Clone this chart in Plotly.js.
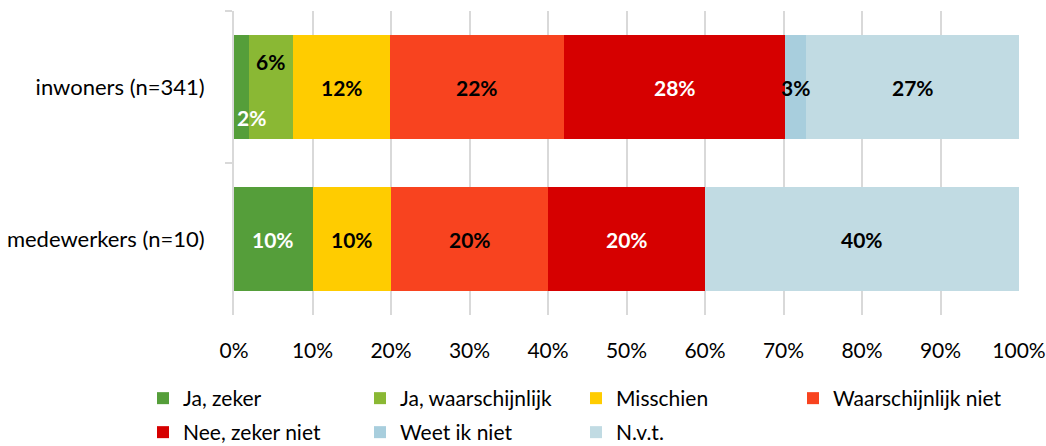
<!DOCTYPE html>
<html>
<head>
<meta charset="utf-8">
<script src="https://cdn.plot.ly/plotly-3.0.1.min.js"></script>
<style>html,body{margin:0;padding:0;background:#fff;}#chart{width:1046px;height:446px;}</style>
</head>
<body>
<div id="chart"></div>
<script>
// ---- data ----
const categories = ["inwoners (n=341)", "medewerkers (n=10)"];
const seriesNames = ["Ja, zeker", "Ja, waarschijnlijk", "Misschien", "Waarschijnlijk niet", "Nee, zeker niet", "Weet ik niet", "N.v.t."];
const jaZeker = [1.9, 10];
const jaWaarschijnlijk = [5.6, 0];
const misschien = [12.4, 10];
const waarschijnlijkNiet = [22.2, 20];
const neeZekerNiet = [28.1, 20];
const weetIkNiet = [2.7, 0];
const nvt = [27.1, 40];
const seriesValues = [jaZeker, jaWaarschijnlijk, misschien, waarschijnlijkNiet, neeZekerNiet, weetIkNiet, nvt];

// ---- styles ----
const colors = ["#559e3a", "#8ab834", "#ffcc00", "#f8431f", "#d60000", "#a8cedd", "#c1dbe3"];
const labelColors = ["#ffffff", "#000000", "#000000", "#000000", "#ffffff", "#000000", "#000000"];
// per-label pixel nudges [series][category] (Excel-style placement of narrow labels)
const labelShift = {"0,0": [10, -30], "1,0": [0, 26]};
const FONT = "Lato, 'Open Sans', sans-serif";
// legend grid: 4 columns x 2 rows (pixel positions of each entry)
const legendColX = [143, 360, 576, 793];
const legendRowTop = [378, 412];

const legendIds = seriesNames.map((_, i) => i === 0 ? "legend" : "legend" + (i + 1));

const traces = seriesNames.map((name, i) => ({
  type: "bar",
  orientation: "h",
  name: name,
  y: categories,
  x: seriesValues[i].map(v => v / 100),
  marker: {color: colors[i], line: {width: 0}},
  hoverinfo: "skip",
  legend: legendIds[i],
  showlegend: true
}));

const annotations = [];
categories.forEach((cat, c) => {
  let cum = 0;
  seriesValues.forEach((arr, s) => {
    const v = arr[c];
    if (v > 0) {
      const sh = labelShift[s + "," + c] || [0, 0];
      annotations.push({
        x: (cum + v / 2) / 100, y: cat, xref: "x", yref: "y",
        text: "<b>" + Math.round(v) + "%</b>", showarrow: false,
        font: {family: FONT, size: 21, color: labelColors[s]},
        xshift: sh[0], yshift: sh[1]
      });
    }
    cum += v;
  });
});

const layout = {
  width: 1046, height: 446,
  margin: {l: 234, r: 27, t: 11, b: 131},
  paper_bgcolor: "#fff", plot_bgcolor: "#fff",
  barmode: "stack", bargap: 0.31,
  font: {family: FONT, color: "#000"},
  xaxis: {
    range: [0, 1], dtick: 0.1, tick0: 0, tickformat: ".0%",
    showgrid: true, gridcolor: "#d9d9d9", gridwidth: 2,
    zeroline: false, showline: false, ticks: "",
    tickfont: {family: FONT, size: 21, color: "#000"},
    ticklabelstandoff: 21, fixedrange: true
  },
  yaxis: {
    type: "category", categoryorder: "array", categoryarray: categories,
    autorange: "reversed",
    showline: true, linecolor: "#d9d9d9", linewidth: 2,
    ticks: "outside", tickson: "boundaries", ticklen: 7, tickcolor: "#d9d9d9", tickwidth: 2,
    showgrid: false, zeroline: false,
    tickfont: {family: FONT, size: 22, color: "#000"},
    ticklabelstandoff: 23, fixedrange: true
  },
  annotations: annotations,
  showlegend: true
};

legendIds.forEach((id, i) => {
  layout[id] = {
    orientation: "h", xref: "container", yref: "container",
    xanchor: "left", yanchor: "top",
    x: legendColX[i % 4] / 1046, y: 1 - legendRowTop[Math.floor(i / 4)] / 446,
    font: {family: FONT, size: 21, color: "#000"},
    bgcolor: "rgba(0,0,0,0)", itemclick: false, itemdoubleclick: false
  };
});

Plotly.newPlot("chart", traces, layout, {displayModeBar: false, staticPlot: true});
</script>
</body>
</html>
